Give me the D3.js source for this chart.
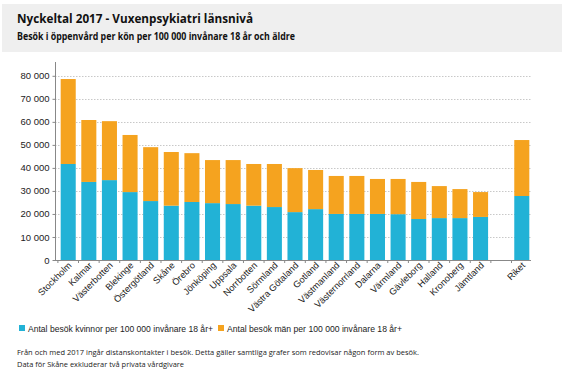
<!DOCTYPE html>
<html>
<head>
<meta charset="utf-8">
<script src="https://cdn.jsdelivr.net/npm/d3@7/dist/d3.min.js"></script>
<style>
  body { margin: 0; background: #fff; }
  svg { display: block; font-family: "Liberation Sans", Arial, sans-serif; }
</style>
</head>
<body>
<div id="chart"></div>
<script>
// Vuxenpsykiatri 2017: besök per 100 000 inv, staplat kvinnor + män per län
const regions = ['Stockholm', 'Kalmar', 'Västerbotten', 'Blekinge', 'Östergötland', 'Skåne', 'Örebro',
  'Jönköping', 'Uppsala', 'Norrbotten', 'Sörmland', 'Västra Götaland', 'Gotland', 'Västmanland',
  'Västernorrland', 'Dalarna', 'Värmland', 'Gävleborg', 'Halland', 'Kronoberg', 'Jämtland', '', 'Riket'];
const women = [41700, 33900, 34700, 29500, 25600, 23600, 25200, 24700, 24300, 23600, 23000, 20800, 22100,
  20000, 20000, 20000, 19900, 17800, 18200, 18200, 18700, null, 27800];
const total = [78600, 60800, 60300, 54300, 49000, 46900, 46400, 43400, 43400, 41700, 41700, 39900, 39100,
  36500, 36500, 35200, 35200, 33900, 32100, 30800, 29500, null, 52100];
const yTicks = [0, 10000, 20000, 30000, 40000, 50000, 60000, 70000, 80000];
const seriesNames = ['Antal besök kvinnor per 100 000 invånare 18 år+', 'Antal besök män per 100 000 invånare 18 år+'];

const colors = { women: '#22b2d6', men: '#f5a31f' };
const width = 578, height = 376;
const fmt = v => d3.format(',')(v).replace(/,/g, ' ');

const svg = d3.select('#chart').append('svg').attr('width', width).attr('height', height);

// grå rubrikruta
svg.append('rect').attr('x', 2).attr('y', 4).attr('width', 560).attr('height', 48).attr('fill', '#efefef');
svg.append('text').attr('x', 17).attr('y', 23)
  .attr('font-family', '"Open Sans", sans-serif').attr('font-weight', 700).attr('font-size', 13)
  .attr('fill', '#111').attr('textLength', 236).attr('lengthAdjust', 'spacingAndGlyphs')
  .text('Nyckeltal 2017 - Vuxenpsykiatri länsnivå');
svg.append('text').attr('x', 17).attr('y', 40)
  .attr('font-family', '"Open Sans", sans-serif').attr('font-weight', 700).attr('font-size', 10)
  .attr('fill', '#111').attr('textLength', 278).attr('lengthAdjust', 'spacingAndGlyphs')
  .text('Besök i öppenvård per kön per 100 000 invånare 18 år och äldre');

const x = d3.scaleBand().domain(regions.map((d, i) => i)).range([58, 532]).paddingInner(0.27).paddingOuter(0.13);
const y = d3.scaleLinear().domain([0, 80000]).range([260, 75.8]);

// stödlinjer
svg.append('g').selectAll('line').data(yTicks.slice(1)).join('line')
  .attr('x1', 55).attr('x2', 531).attr('y1', d => Math.round(y(d)) + 0.5).attr('y2', d => Math.round(y(d)) + 0.5)
  .attr('stroke', '#c8c8c8').attr('stroke-dasharray', '1.5,1.5');

const rows = regions.map((r, i) => ({ r, i, w: women[i], t: total[i] })).filter(d => d.t != null);

svg.append('g').selectAll('rect').data(rows).join('rect')
  .attr('x', d => x(d.i)).attr('width', x.bandwidth())
  .attr('y', d => y(d.w)).attr('height', d => y(0) - y(d.w)).attr('fill', colors.women);
svg.append('g').selectAll('rect').data(rows).join('rect')
  .attr('x', d => x(d.i)).attr('width', x.bandwidth())
  .attr('y', d => y(d.t)).attr('height', d => y(d.w) - y(d.t)).attr('fill', colors.men);

// y-axel
const yAx = svg.append('g').attr('transform', 'translate(55.5,0)')
  .call(d3.axisLeft(y).tickValues(yTicks).tickFormat(fmt).tickSize(3).tickPadding(3));
yAx.select('.domain').attr('stroke', '#888').attr('d', 'M0,62V260');
yAx.selectAll('.tick line').attr('stroke', '#888');
yAx.selectAll('text').attr('font-size', 9.5).attr('fill', '#222').attr('font-family', '"Liberation Sans", Arial, sans-serif');

// x-axel: linje och små streck mellan kategorierna
const step = x.step();
const bounds = d3.range(regions.length + 1).map(i => 58 + step * 0.13 - step * 0.27 / 2 + i * step);
const xg = svg.append('g');
xg.append('line').attr('x1', 55).attr('x2', 531).attr('y1', 260.5).attr('y2', 260.5).attr('stroke', '#888');
xg.selectAll('line.t').data(bounds.filter(b => b > 56 && b < 532)).join('line').attr('class', 't')
  .attr('x1', d => d).attr('x2', d => d).attr('y1', 260).attr('y2', 263).attr('stroke', '#888');

xg.selectAll('text').data(rows).join('text')
  .attr('transform', d => `translate(${x(d.i) + x.bandwidth() / 2 + 4},${266}) rotate(-45)`)
  .attr('text-anchor', 'end').attr('font-size', 9.2).attr('fill', '#222')
  .text(d => d.r);

// teckenförklaring
const leg = svg.append('g').attr('font-size', 9).attr('fill', '#222');
leg.append('rect').attr('x', 19).attr('y', 325).attr('width', 6).attr('height', 6).attr('fill', colors.women);
leg.append('text').attr('x', 28).attr('y', 332).attr('textLength', 185).attr('lengthAdjust', 'spacingAndGlyphs')
  .text(seriesNames[0]);
leg.append('rect').attr('x', 218).attr('y', 325).attr('width', 6).attr('height', 6).attr('fill', colors.men);
leg.append('text').attr('x', 227).attr('y', 332).attr('textLength', 175).attr('lengthAdjust', 'spacingAndGlyphs')
  .text(seriesNames[1]);

// fotnot
const note = svg.append('g').attr('font-family', '"Open Sans", sans-serif').attr('font-size', 8).attr('fill', '#222');
note.append('text').attr('x', 17).attr('y', 355).attr('textLength', 402).attr('lengthAdjust', 'spacingAndGlyphs')
  .text('Från och med 2017 ingår distanskontakter i besök. Detta gäller samtliga grafer som redovisar någon form av besök.');
note.append('text').attr('x', 17).attr('y', 367).attr('textLength', 167).attr('lengthAdjust', 'spacingAndGlyphs')
  .text('Data för Skåne exkluderar två privata vårdgivare');
</script>
</body>
</html>
